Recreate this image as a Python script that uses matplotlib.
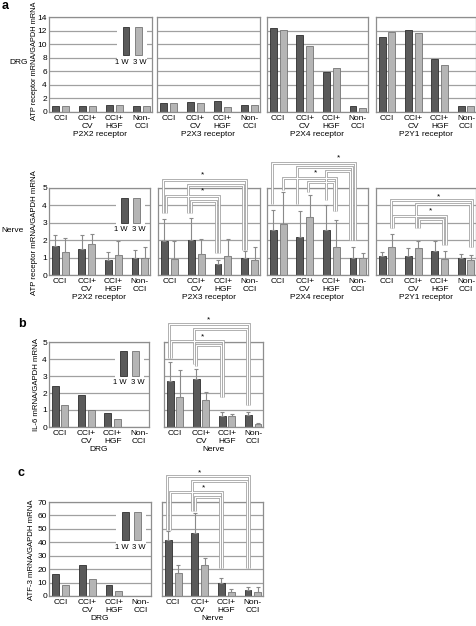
import numpy as np
import matplotlib
matplotlib.use('Agg')
import matplotlib.pyplot as plt
from matplotlib.patches import Rectangle

plt.rcParams['font.family'] = ['Liberation Sans', 'DejaVu Sans']

# ---------------- data ----------------
categories = ['CCI', 'CCI+\nCV', 'CCI+\nHGF', 'Non-\nCCI']
receptors = ['P2X2 receptor', 'P2X3 receptor', 'P2X4 receptor', 'P2Y1 receptor']
legend_labels = ['1 W', '3 W']

# panel a, DRG (no error bars)
a_drg_p2x2_1w = [0.9, 0.85, 1.0, 0.9]
a_drg_p2x2_3w = [0.85, 0.85, 1.0, 0.9]
a_drg_p2x3_1w = [1.3, 1.5, 1.6, 1.0]
a_drg_p2x3_3w = [1.3, 1.3, 0.7, 1.0]
a_drg_p2x4_1w = [12.45, 11.3, 5.9, 0.9]
a_drg_p2x4_3w = [12.15, 9.7, 6.45, 0.6]
a_drg_p2y1_1w = [11.0, 12.1, 7.8, 0.9]
a_drg_p2y1_3w = [11.8, 11.7, 6.9, 0.9]

# panel a, Nerve (mean and SD)
a_nrv_p2x2_1w = [1.69, 1.47, 0.86, 1.0]
a_nrv_p2x2_1w_sd = [0.63, 0.81, 0.48, 0.46]
a_nrv_p2x2_3w = [1.32, 1.8, 1.17, 1.0]
a_nrv_p2x2_3w_sd = [0.81, 0.58, 0.78, 0.59]
a_nrv_p2x3_1w = [1.95, 1.99, 0.63, 1.0]
a_nrv_p2x3_1w_sd = [1.29, 1.27, 0.25, 0.38]
a_nrv_p2x3_3w = [0.94, 1.23, 1.11, 0.86]
a_nrv_p2x3_3w_sd = [0.99, 0.86, 0.98, 0.75]
a_nrv_p2x4_1w = [2.57, 2.16, 2.57, 1.0]
a_nrv_p2x4_1w_sd = [1.18, 1.54, 1.47, 0.59]
a_nrv_p2x4_3w = [2.95, 3.33, 1.61, 0.98]
a_nrv_p2x4_3w_sd = [1.8, 1.25, 1.57, 0.28]
a_nrv_p2y1_1w = [1.07, 1.11, 1.4, 1.0]
a_nrv_p2y1_1w_sd = [0.27, 0.44, 0.57, 0.2]
a_nrv_p2y1_3w = [1.61, 1.53, 0.9, 0.88]
a_nrv_p2y1_3w_sd = [0.75, 0.44, 0.48, 0.29]

# panel b, IL-6
b_drg_1w = [2.43, 1.91, 0.84, 0.0]
b_drg_3w = [1.3, 1.01, 0.45, 0.0]
b_nrv_1w = [2.68, 2.82, 0.66, 0.7]
b_nrv_1w_sd = [1.13, 0.57, 0.22, 0.2]
b_nrv_3w = [1.77, 1.6, 0.62, 0.16]
b_nrv_3w_sd = [1.56, 0.48, 0.12, 0.05]

# panel c, ATF-3
c_drg_1w = [16.7, 23.2, 8.5, 0.0]
c_drg_3w = [8.5, 12.5, 3.7, 0.0]
c_nrv_1w = [41.4, 47.1, 9.7, 4.5]
c_nrv_1w_sd = [6.7, 14.4, 3.5, 2.2]
c_nrv_3w = [16.9, 22.9, 3.0, 3.2]
c_nrv_3w_sd = [6.3, 5.5, 2.5, 3.3]

# significance brackets: (from group, to group, bar 0=1W/1=3W, top, left foot, right foot, left shift, right shift)
br_p2x3 = [(0, 3, 0, 5.46, 3.54, 1.44, -0.04, 0.04),
           (1, 3, 0, 5.17, 3.54, 1.44, -0.1, -0.05),
           (0, 2, 0, 4.54, 3.54, 1.26, 0.05, 0.04),
           (1, 2, 0, 4.27, 3.54, 1.26, 0.0, -0.06)]
st_p2x3 = [(1.23, 5.78), (1.23, 4.85)]
br_p2x4 = [(0, 3, 0, 6.45, 4.1, 2.0, -0.04, 0.07),
           (1, 3, 0, 6.2, 4.1, 2.0, -0.12, -0.02),
           (2, 3, 0, 5.95, 4.3, 2.0, 0.0, -0.1),
           (0, 2, 1, 5.59, 4.9, 3.7, -0.02, 0.0),
           (1, 2, 1, 5.36, 4.75, 3.7, -0.07, -0.1)]
st_p2x4 = [(2.27, 6.72), (1.4, 5.88)]
br_p2y1 = [(0, 3, 1, 4.31, 2.7, 1.63, -0.03, 0.05),
           (1, 3, 1, 4.08, 2.7, 1.63, -0.08, -0.03),
           (0, 2, 1, 3.41, 2.7, 1.72, 0.03, 0.04),
           (1, 2, 1, 3.2, 2.7, 1.72, 0.02, -0.04)]
st_p2y1 = [(1.97, 4.5), (1.65, 3.68)]
br_b = [(0, 3, 0, 6.06, 4.04, 1.29, -0.04, 0.04),
        (1, 3, 0, 5.75, 3.7, 1.29, -0.1, -0.05),
        (0, 2, 0, 5.08, 4.04, 1.76, 0.05, 0.04),
        (1, 2, 0, 4.82, 3.6, 1.76, 0.0, -0.06)]
st_b = [(1.29, 6.3), (1.04, 5.3)]
br_c = [(0, 3, 0, 89.4, 49.5, 21.0, -0.04, 0.04),
        (1, 3, 0, 85.9, 63.0, 21.0, -0.1, -0.05),
        (0, 2, 0, 77.7, 49.5, 21.0, 0.05, 0.04),
        (1, 2, 0, 74.0, 63.0, 21.0, 0.0, -0.06)]
st_c = [(0.99, 92.0), (1.15, 80.4)]

# ---------------- style ----------------
W, H = 477, 626
fig = plt.figure(figsize=(W / 100, H / 100), dpi=100)
DARK, DARK_E = '#5a5a5a', '#2e2e2e'
LIGHT, LIGHT_E = '#b5b5b5', '#747474'
GRID = '#a0a0a0'
FRAME = '#8e8e8e'
ERR = '#8a8a8a'
OFF, BW = 0.185, 0.26
FS = 6


def px_axes(x0, y0, x1, y1):
    return fig.add_axes([x0 / W, 1 - y1 / H, (x1 - x0) / W, (y1 - y0) / H])


def panel(ax, v1, v2, ymax, ystep, yticklabels, xlabel, s1=None, s2=None):
    x = np.arange(len(categories))
    ax.set_xlim(-0.42, 3.38)
    ax.set_ylim(0, ymax)
    ax.set_yticks(np.arange(0, ymax + ystep / 2, ystep))
    ax.yaxis.grid(True, color=GRID, lw=0.9)
    ax.set_axisbelow(True)
    ekw = dict(ecolor=ERR, elinewidth=0.8, capsize=1.6, capthick=0.8)
    y1err = None if s1 is None else [np.zeros(len(s1)), s1]
    y2err = None if s2 is None else [np.zeros(len(s2)), s2]
    ax.bar(x - OFF, v1, BW, color=DARK, edgecolor=DARK_E, lw=0.6, yerr=y1err,
           error_kw=ekw, zorder=2)
    ax.bar(x + OFF, v2, BW, color=LIGHT, edgecolor=LIGHT_E, lw=0.6, yerr=y2err,
           error_kw=ekw, zorder=2)
    for sp in ax.spines.values():
        sp.set_color(FRAME)
        sp.set_linewidth(0.9)
    ax.tick_params(length=0, labelsize=FS, pad=1.5)
    ax.tick_params(axis='x', pad=2.5)
    if not yticklabels:
        ax.set_yticklabels([])
    ax.set_xticks(x)
    ax.set_xticklabels(categories, linespacing=1.05)
    ax.set_xlabel(xlabel, fontsize=FS, labelpad=1)


def legend(ax):
    ax.add_patch(Rectangle((0.66, 0.46), 0.29, 0.49, transform=ax.transAxes,
                           facecolor='white', edgecolor='none', zorder=1.5))
    ax.add_patch(Rectangle((0.715, 0.6), 0.065, 0.29, transform=ax.transAxes,
                           facecolor=DARK, edgecolor=DARK_E, lw=0.6, zorder=3))
    ax.add_patch(Rectangle((0.835, 0.6), 0.065, 0.29, transform=ax.transAxes,
                           facecolor=LIGHT, edgecolor=LIGHT_E, lw=0.6, zorder=3))
    ax.text(0.71, 0.52, legend_labels[0], transform=ax.transAxes, ha='center',
            va='center', fontsize=5.5, zorder=4)
    ax.text(0.885, 0.52, legend_labels[1], transform=ax.transAxes, ha='center',
            va='center', fontsize=5.5, zorder=4)


def brackets(ax, specs, stars):
    for (i, j, b, top, lb, rb, dl, dr) in specs:
        off = -OFF if b == 0 else OFF
        xl, xr = i + off + dl, j + off + dr
        xs, ys = [xl, xl, xr, xr], [lb, top, top, rb]
        ax.plot(xs, ys, color='#a5a5a5', lw=2.0, clip_on=False, zorder=5,
                solid_joinstyle='miter', solid_capstyle='butt')
        ax.plot(xs, ys, color='white', lw=0.8, clip_on=False, zorder=6,
                solid_joinstyle='miter', solid_capstyle='butt')
    for (sx, sy) in stars:
        ax.text(sx, sy, '*', ha='center', va='center', fontsize=6,
                clip_on=False, zorder=7)


# ---------------- panel a ----------------
xcols = [(49, 152), (157, 260), (267, 368), (376, 476)]
drg_sets = [(a_drg_p2x2_1w, a_drg_p2x2_3w), (a_drg_p2x3_1w, a_drg_p2x3_3w),
            (a_drg_p2x4_1w, a_drg_p2x4_3w), (a_drg_p2y1_1w, a_drg_p2y1_3w)]
for k, ((x0, x1), (d1, d2)) in enumerate(zip(xcols, drg_sets)):
    ax = px_axes(x0, 17, x1, 112)
    panel(ax, d1, d2, 14, 2, k == 0, receptors[k])
    if k == 0:
        legend(ax)

nrv_sets = [(a_nrv_p2x2_1w, a_nrv_p2x2_3w, a_nrv_p2x2_1w_sd, a_nrv_p2x2_3w_sd),
            (a_nrv_p2x3_1w, a_nrv_p2x3_3w, a_nrv_p2x3_1w_sd, a_nrv_p2x3_3w_sd),
            (a_nrv_p2x4_1w, a_nrv_p2x4_3w, a_nrv_p2x4_1w_sd, a_nrv_p2x4_3w_sd),
            (a_nrv_p2y1_1w, a_nrv_p2y1_3w, a_nrv_p2y1_1w_sd, a_nrv_p2y1_3w_sd)]
nrv_br = [None, (br_p2x3, st_p2x3), (br_p2x4, st_p2x4), (br_p2y1, st_p2y1)]
for k, ((x0, x1), (d1, d2, e1, e2)) in enumerate(zip(xcols, nrv_sets)):
    ax = px_axes(x0 if k != 1 else 158, 188, x1 if k != 0 else 150, 275)
    panel(ax, d1, d2, 5, 1, k == 0, receptors[k], e1, e2)
    if k == 0:
        legend(ax)
    if nrv_br[k] is not None:
        brackets(ax, *nrv_br[k])

# ---------------- panel b ----------------
ax = px_axes(49, 342, 149, 427)
panel(ax, b_drg_1w, b_drg_3w, 5, 1, True, 'DRG')
legend(ax)
ax = px_axes(164, 342, 263, 427)
panel(ax, b_nrv_1w, b_nrv_3w, 5, 1, False, 'Nerve', b_nrv_1w_sd, b_nrv_3w_sd)
brackets(ax, br_b, st_b)

# ---------------- panel c ----------------
ax = px_axes(49, 502, 151, 596)
panel(ax, c_drg_1w, c_drg_3w, 70, 10, True, 'DRG')
legend(ax)
ax = px_axes(162, 502, 263, 596)
panel(ax, c_nrv_1w, c_nrv_3w, 70, 10, False, 'Nerve', c_nrv_1w_sd, c_nrv_3w_sd)
brackets(ax, br_c, st_c)

# ---------------- labels ----------------
def ftext(x, y, s, **kw):
    fig.text(x / W, 1 - y / H, s, **kw)

ftext(2, 6, 'a', fontsize=9, fontweight='bold', va='center', ha='left')
ftext(18, 324, 'b', fontsize=9, fontweight='bold', va='center', ha='left')
ftext(18, 473, 'c', fontsize=9, fontweight='bold', va='center', ha='left')
ftext(19, 62, 'DRG', fontsize=FS, ha='center', va='center')
ftext(12, 230, 'Nerve', fontsize=FS, ha='center', va='center')
ylab_kw = dict(fontsize=5.6, rotation=90, ha='center', va='center')
fig.text(35 / W, 1 - 120 / H, 'ATP receptor mRNA/GAPDH mRNA', fontsize=5.3,
         rotation=90, ha='center', va='bottom')
ftext(35, 233, 'ATP receptor mRNA/GAPDH mRNA', **ylab_kw)
ftext(37, 385, 'IL-6 mRNA/GAPDH mRNA', **ylab_kw)
ftext(32, 550, 'ATF-3 mRNA/GAPDH mRNA', **ylab_kw)

fig.savefig('out.png', dpi=100)
